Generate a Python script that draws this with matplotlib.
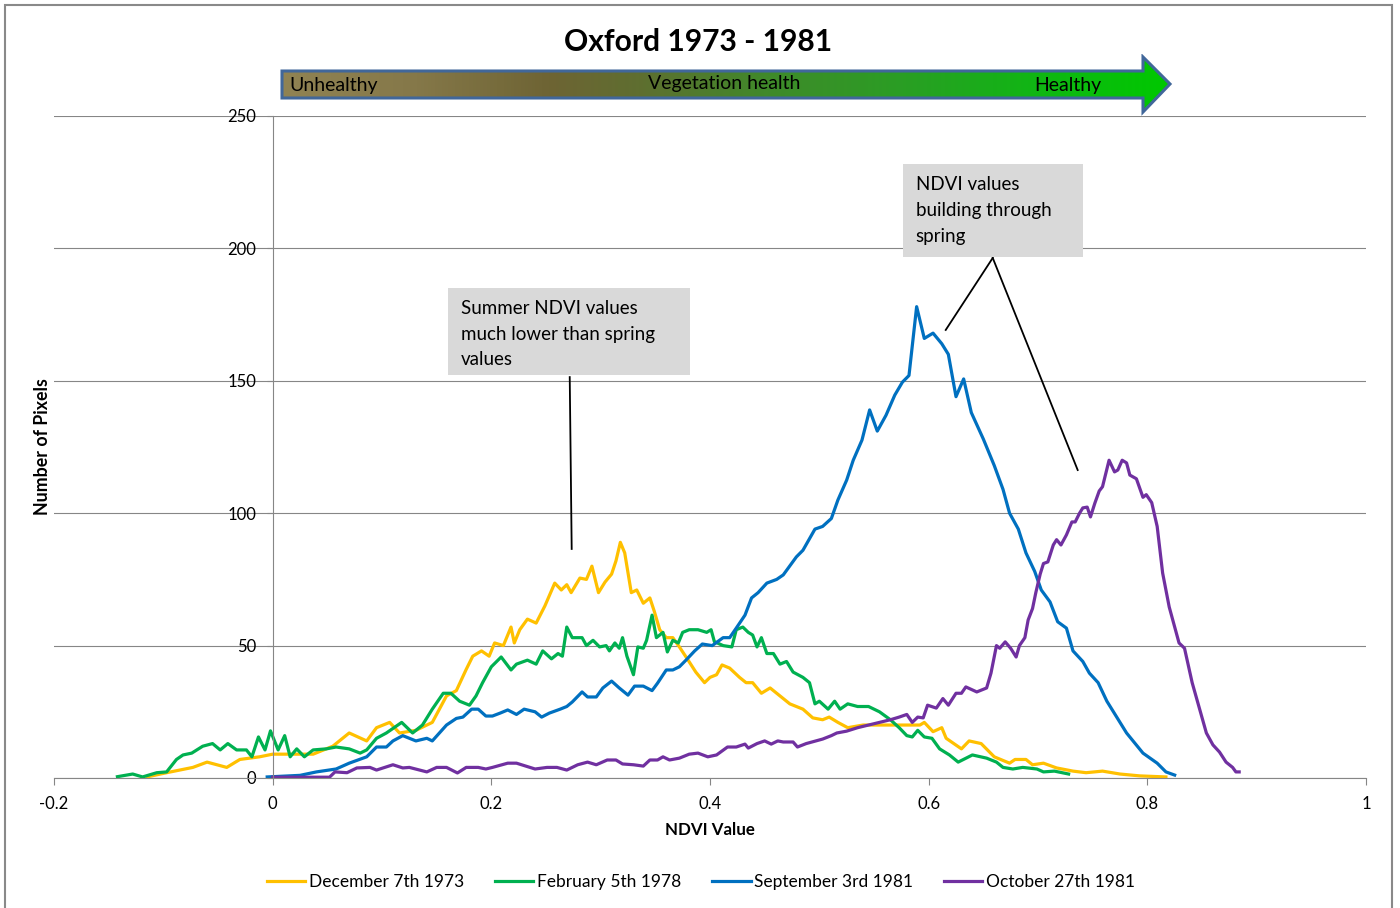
import numpy as np
import matplotlib.pyplot as plt
from matplotlib.colors import LinearSegmentedColormap
from matplotlib.patches import Polygon, Rectangle

plt.rcParams['font.family'] = ['Lato', 'DejaVu Sans']

# NDVI histogram values: (ndvi, pixels)
dec73 = [(-0.115, 0.4), (-0.097, 2), (-0.073, 4), (-0.06, 6), (-0.042, 4), (-0.030, 7), (-0.012, 8),
         (0.0, 9), (0.018, 9), (0.037, 9), (0.055, 12), (0.07, 17), (0.086, 14), (0.095, 19), (0.107, 21),
         (0.116, 17), (0.131, 18), (0.146, 21), (0.159, 31), (0.168, 33), (0.177, 41), (0.183, 46),
         (0.191, 48), (0.198, 46), (0.203, 51), (0.211, 50), (0.218, 57), (0.221, 51), (0.226, 56),
         (0.233, 60), (0.241, 58.5), (0.249, 65), (0.258, 73.6), (0.264, 71), (0.269, 73), (0.273, 70),
         (0.281, 75.5), (0.287, 75), (0.292, 80), (0.298, 70), (0.304, 74), (0.310, 77), (0.314, 82),
         (0.318, 89), (0.322, 85), (0.328, 70), (0.333, 71), (0.339, 66), (0.345, 68), (0.349, 63),
         (0.354, 56), (0.360, 53), (0.366, 53), (0.372, 49.5), (0.380, 44.5), (0.387, 40), (0.395, 36),
         (0.400, 38), (0.406, 39), (0.411, 42.7), (0.418, 41.5), (0.427, 38), (0.433, 36), (0.439, 36),
         (0.447, 32), (0.455, 34), (0.464, 31), (0.473, 28), (0.485, 26), (0.494, 22.7), (0.503, 22),
         (0.509, 23), (0.517, 21), (0.526, 19), (0.540, 20), (0.555, 20), (0.573, 20), (0.592, 20),
         (0.596, 21), (0.604, 17.5), (0.612, 19), (0.616, 15), (0.630, 11), (0.637, 14), (0.648, 13),
         (0.660, 8), (0.674, 5.6), (0.679, 7), (0.689, 7), (0.695, 5), (0.705, 5.6), (0.717, 3.8),
         (0.732, 2.6), (0.744, 2), (0.759, 2.6), (0.775, 1.5), (0.793, 0.8), (0.817, 0.4)]

feb78 = [(-0.142, 0.5), (-0.128, 1.5), (-0.119, 0.4), (-0.106, 2), (-0.097, 2.3), (-0.088, 7), (-0.082, 8.7),
         (-0.074, 9.4), (-0.064, 12), (-0.055, 13), (-0.048, 10.6), (-0.041, 13), (-0.033, 10.6),
         (-0.024, 10.6), (-0.019, 8), (-0.013, 15.5), (-0.007, 10.6), (-0.002, 17.8), (0.005, 10.6),
         (0.011, 16), (0.016, 8), (0.022, 11), (0.029, 8), (0.037, 10.6), (0.049, 11), (0.058, 11.7),
         (0.070, 11), (0.080, 9.4), (0.086, 10.6), (0.095, 15), (0.104, 17), (0.118, 21), (0.128, 17),
         (0.137, 20), (0.146, 26), (0.156, 32), (0.163, 32), (0.171, 29), (0.180, 27.5), (0.186, 31),
         (0.192, 36), (0.200, 42), (0.209, 45.7), (0.218, 40.8), (0.223, 43), (0.233, 44.5), (0.241, 43),
         (0.247, 48), (0.255, 45), (0.261, 47), (0.265, 46), (0.269, 57), (0.274, 53), (0.283, 53),
         (0.287, 50), (0.293, 52), (0.299, 49.5), (0.305, 50), (0.308, 48), (0.313, 51), (0.317, 49),
         (0.320, 53), (0.324, 46), (0.330, 39), (0.334, 49.5), (0.339, 49), (0.342, 52), (0.347, 61.5),
         (0.351, 53), (0.357, 55), (0.361, 47.6), (0.366, 52), (0.371, 51), (0.375, 55), (0.381, 56),
         (0.389, 56), (0.397, 55), (0.401, 56), (0.404, 51.5), (0.412, 50), (0.420, 49.5), (0.424, 56),
         (0.430, 57), (0.435, 55), (0.439, 54), (0.443, 49.5), (0.447, 53), (0.452, 47), (0.458, 47),
         (0.464, 43), (0.470, 44), (0.476, 40), (0.485, 38), (0.491, 36), (0.496, 28), (0.500, 29),
         (0.508, 26), (0.514, 29), (0.519, 26), (0.526, 28), (0.535, 27), (0.545, 27), (0.555, 25),
         (0.565, 22), (0.573, 19), (0.580, 16), (0.585, 15.5), (0.590, 18), (0.596, 15.5), (0.603, 15),
         (0.610, 11), (0.619, 8.7), (0.627, 6), (0.640, 8.7), (0.653, 7.5), (0.662, 6), (0.668, 4),
         (0.677, 3.4), (0.686, 4), (0.699, 3.4), (0.705, 2.3), (0.715, 2.6), (0.728, 1.5)]

sep81 = [(-0.005, 0.4), (0.025, 1), (0.040, 2.3), (0.058, 3.4), (0.070, 5.6), (0.086, 8), (0.095, 11.7),
         (0.104, 11.7), (0.110, 14), (0.119, 16), (0.131, 14), (0.141, 15), (0.146, 14), (0.159, 20),
         (0.168, 22.5), (0.174, 23), (0.182, 26), (0.188, 26), (0.195, 23.4), (0.201, 23.4), (0.208, 24.5),
         (0.215, 25.7), (0.223, 24), (0.230, 26), (0.240, 25), (0.246, 23), (0.253, 24.5), (0.263, 26),
         (0.269, 27), (0.274, 28.7), (0.283, 32.5), (0.288, 30.6), (0.296, 30.6), (0.302, 34), (0.310, 36.6),
         (0.317, 34), (0.325, 31.3), (0.331, 34.7), (0.339, 34.7), (0.347, 33), (0.352, 35.8), (0.360, 40.8),
         (0.366, 40.8), (0.372, 42), (0.378, 44.5), (0.386, 48), (0.393, 50.6), (0.402, 50), (0.412, 53),
         (0.418, 53), (0.424, 56.6), (0.432, 61.5), (0.438, 68), (0.444, 70), (0.452, 73.6), (0.461, 75),
         (0.467, 76.7), (0.479, 83.5), (0.485, 86), (0.496, 94), (0.503, 95), (0.511, 98), (0.517, 105),
         (0.525, 112.5), (0.531, 120), (0.539, 127.6), (0.546, 139), (0.553, 131), (0.561, 137),
         (0.569, 144.6), (0.576, 149.5), (0.582, 152), (0.589, 178), (0.596, 166), (0.604, 168),
         (0.612, 164), (0.618, 160), (0.625, 144), (0.632, 150.7), (0.639, 138), (0.650, 128), (0.660, 118),
         (0.668, 109), (0.674, 100), (0.682, 94), (0.689, 85), (0.697, 78), (0.703, 71), (0.711, 66.5),
         (0.718, 59), (0.726, 56.6), (0.732, 48), (0.741, 44), (0.747, 39.6), (0.755, 36), (0.763, 29),
         (0.772, 23), (0.781, 17), (0.796, 9.4), (0.809, 5.6), (0.817, 2.3), (0.825, 1.1)]

oct81 = [(0.0, 0.3), (0.03, 0.3), (0.052, 0.3), (0.057, 2.3), (0.068, 2), (0.077, 3.8), (0.089, 4), (0.095, 3),
         (0.110, 5), (0.119, 3.8), (0.125, 4), (0.141, 2.3), (0.150, 4), (0.159, 4), (0.169, 1.9), (0.177, 4),
         (0.188, 4), (0.195, 3.4), (0.201, 4), (0.215, 5.6), (0.223, 5.6), (0.240, 3.4), (0.251, 4),
         (0.260, 4), (0.269, 3), (0.279, 5), (0.288, 6), (0.296, 5), (0.306, 6.8), (0.314, 6.8), (0.320, 5.3),
         (0.330, 5), (0.339, 4.5), (0.345, 6.8), (0.352, 6.8), (0.357, 8), (0.363, 6.8), (0.372, 7.5),
         (0.381, 9), (0.389, 9.4), (0.398, 8), (0.406, 8.7), (0.416, 11.7), (0.424, 11.7), (0.432, 12.8),
         (0.435, 11.3), (0.443, 13), (0.450, 14), (0.456, 12.8), (0.462, 14), (0.467, 13.6), (0.476, 13.6),
         (0.480, 11.7), (0.488, 13), (0.497, 14), (0.503, 14.7), (0.511, 16), (0.516, 17), (0.525, 17.7),
         (0.535, 19), (0.545, 20), (0.555, 21), (0.565, 22), (0.573, 23), (0.580, 24), (0.585, 21),
         (0.590, 23), (0.595, 22.7), (0.599, 27.5), (0.607, 26.4), (0.613, 30), (0.618, 27.5), (0.625, 32),
         (0.630, 32), (0.634, 34.4), (0.644, 32.5), (0.653, 34), (0.657, 39.6), (0.662, 50), (0.665, 49),
         (0.670, 51.4), (0.675, 49), (0.680, 45.7), (0.683, 50), (0.688, 53), (0.691, 59.7), (0.695, 64),
         (0.698, 70), (0.702, 77), (0.705, 81), (0.709, 81.6), (0.714, 88), (0.717, 90), (0.721, 88),
         (0.726, 91.8), (0.731, 96.7), (0.734, 96.7), (0.738, 100), (0.741, 102), (0.745, 102.3),
         (0.748, 98.6), (0.752, 103.8), (0.756, 108.4), (0.759, 110), (0.765, 120), (0.770, 115.6),
         (0.773, 116.3), (0.777, 120), (0.781, 119), (0.784, 114.4), (0.790, 113), (0.796, 106),
         (0.799, 107), (0.804, 104), (0.809, 95), (0.814, 77.4), (0.820, 64.6), (0.829, 51), (0.834, 49),
         (0.841, 36), (0.848, 25.7), (0.854, 17), (0.860, 12.5), (0.866, 9.8), (0.872, 6), (0.878, 4),
         (0.881, 2.3), (0.884, 2.3)]

series = [dec73, feb78, sep81, oct81]
labels = ['December 7th 1973', 'February 5th 1978', 'September 3rd 1981', 'October 27th 1981']
colors = ['#FFC000', '#00B050', '#0070C0', '#7030A0']
yticks = [0, 50, 100, 150, 200, 250]
xticks = [-0.2, 0, 0.2, 0.4, 0.6, 0.8, 1]

fig = plt.figure(figsize=(14, 9.08), dpi=100)
ax = fig.add_axes([54 / 1400, 130 / 908, 1312 / 1400, 662 / 908])

for data, lab, c in zip(series, labels, colors):
    d = np.array(data)
    ax.plot(d[:, 0], d[:, 1], color=c, lw=2.3, label=lab, solid_joinstyle='round')

grid_c = '#868686'
ax.set_xlim(-0.2, 1)
ax.set_ylim(0, 250)
ax.set_xticks(xticks)
ax.set_xticklabels(['-0.2', '0', '0.2', '0.4', '0.6', '0.8', '1'])
ax.set_yticks(yticks)
ax.yaxis.grid(True, color=grid_c, lw=0.8)
ax.set_axisbelow(True)
for s in ['top', 'right']:
    ax.spines[s].set_visible(False)
ax.spines['left'].set_position(('data', 0))
ax.spines['left'].set_color(grid_c)
ax.spines['bottom'].set_color(grid_c)
ax.spines['left'].set_linewidth(0.8)
ax.spines['bottom'].set_linewidth(0.8)
ax.tick_params(axis='x', length=5, color=grid_c, width=0.8, pad=8, labelsize=12)
ax.tick_params(axis='y', length=4, color=grid_c, width=0.8, pad=8, labelsize=12)

# callout boxes
ax.add_patch(Rectangle((0.160, 152.2), 0.2214, 32.8, facecolor='#D9D9D9', edgecolor='none', clip_on=False, zorder=3))
ax.text(0.172, 180.5, 'Summer NDVI values\nmuch lower than spring\nvalues', fontsize=13.5, va='top', ha='left',
        linespacing=1.62, zorder=4)
ax.plot([0.2717, 0.2735], [151.4, 86.5], color='black', lw=1.3)

ax.add_patch(Rectangle((0.5762, 196.8), 0.1647, 35.1, facecolor='#D9D9D9', edgecolor='none', clip_on=False, zorder=3))
ax.text(0.5882, 227.2, 'NDVI values\nbuilding through\nspring', fontsize=13.5, va='top', ha='left',
        linespacing=1.62, zorder=4)
ax.plot([0.6586, 0.6156], [196.4, 169.2], color='black', lw=1.3)
ax.plot([0.6586, 0.7363], [196.4, 116.3], color='black', lw=1.3)

# vegetation health arrow
bax = fig.add_axes([278 / 1400, 1 - 116 / 908, 896 / 1400, 62 / 908])
bax.set_xlim(278, 1174)
bax.set_ylim(116, 54)
bax.axis('off')
arrow = Polygon([(282, 71), (1143, 71), (1143, 57), (1170, 84), (1143, 112), (1143, 98), (282, 98)],
                closed=True, facecolor='none', edgecolor='#41679A', lw=2.2, zorder=3)
bax.add_patch(arrow)
cmap = LinearSegmentedColormap.from_list('veg', [(0.0, '#908353'), (0.15, '#857849'), (0.30, '#6E6434'),
                                                 (0.40, '#5F6E30'), (0.55, '#3F8A2A'), (0.70, '#2A9E24'),
                                                 (0.85, '#10B614'), (1.0, '#00C800')])
grad = np.linspace(0, 1, 256).reshape(1, -1)
im = bax.imshow(grad, cmap=cmap, extent=(282, 1170, 112, 57), aspect='auto', zorder=2)
im.set_clip_path(arrow)
bax.text(289, 85, 'Unhealthy', fontsize=14, va='center', ha='left', zorder=4)
bax.text(724, 84, 'Vegetation health', fontsize=14, va='center', ha='center', zorder=4)
bax.text(1068, 85, 'Healthy', fontsize=14, va='center', ha='center', zorder=4)

fig.text(698 / 1400, 1 - 42 / 908, 'Oxford 1973 - 1981', fontsize=21.6, fontweight='bold', ha='center', va='center')
fig.text(710 / 1400, 1 - 830 / 908, 'NDVI Value', fontsize=12.2, fontweight='bold', ha='center', va='center')
fig.text(42 / 1400, 1 - 447 / 908, 'Number of Pixels', fontsize=12.8, fontweight='bold', ha='center', va='center',
         rotation=90)

fig.legend(loc='center', bbox_to_anchor=(701 / 1400, 1 - 882 / 908), ncol=4, frameon=False, fontsize=12.5,
           handlelength=2.2, handletextpad=0.2, columnspacing=1.8)

# chart area border
fig.add_artist(Rectangle((4.5 / 1400, -0.01), 1387.5 / 1400, 1.01 - 4.5 / 908, transform=fig.transFigure,
                         facecolor='none', edgecolor='#898989', lw=1.5))

fig.savefig('out.png', dpi=100)
